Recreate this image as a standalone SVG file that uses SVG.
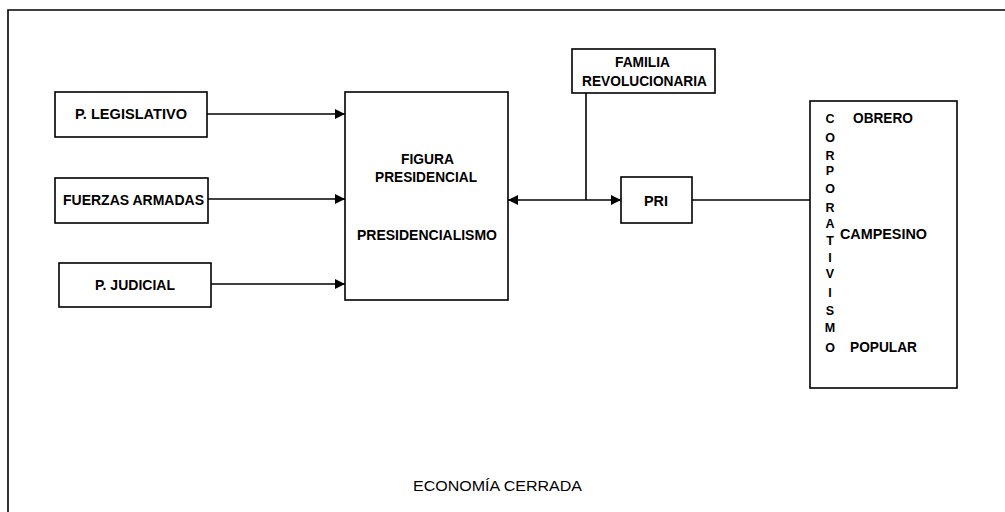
<svg xmlns="http://www.w3.org/2000/svg" width="1005" height="512" viewBox="0 0 1005 512">
<style>
.box{fill:#fff;stroke:#000;stroke-width:1.6}
.ln{fill:none;stroke:#000;stroke-width:1.6}
text{font-family:"Liberation Sans",Arial,sans-serif;font-size:14px;font-weight:bold;fill:#000}
.v{font-size:12.5px;text-anchor:middle}
</style>
<defs>
<marker id="ah" viewBox="0 0 10 10" refX="10" refY="5" markerWidth="12" markerHeight="10" markerUnits="userSpaceOnUse" orient="auto-start-reverse">
<path d="M0,0 L10,5 L0,10 z" fill="#000"/>
</marker>
</defs>
<rect width="1005" height="512" fill="#fff"/>
<path class="ln" d="M8,512 V10 H1005" stroke-width="2"/>
<g id="connectors">
<line class="ln" x1="207" y1="114" x2="345" y2="114" marker-end="url(#ah)"/>
<line class="ln" x1="208" y1="199" x2="345" y2="199" marker-end="url(#ah)"/>
<line class="ln" x1="211" y1="284" x2="345" y2="284" marker-end="url(#ah)"/>
<line class="ln" x1="508" y1="200" x2="621" y2="200" marker-start="url(#ah)" marker-end="url(#ah)"/>
<line class="ln" x1="586" y1="93" x2="586" y2="200"/>
<line class="ln" x1="692" y1="200" x2="810" y2="200"/>
</g>
<g id="legislativo">
<rect class="box" x="55" y="92" width="152" height="45"/>
<text x="75" y="119" textLength="112" lengthAdjust="spacingAndGlyphs">P. LEGISLATIVO</text>
</g>
<g id="fuerzas">
<rect class="box" x="55" y="178" width="153" height="45"/>
<text x="63" y="205" textLength="141" lengthAdjust="spacingAndGlyphs">FUERZAS ARMADAS</text>
</g>
<g id="judicial">
<rect class="box" x="59" y="263" width="152" height="44"/>
<text x="95" y="290" textLength="80" lengthAdjust="spacingAndGlyphs">P. JUDICIAL</text>
</g>
<g id="presidencial">
<rect class="box" x="345" y="92" width="163" height="208"/>
<text x="401" y="164" textLength="53" lengthAdjust="spacingAndGlyphs">FIGURA</text>
<text x="375" y="182" textLength="102" lengthAdjust="spacingAndGlyphs">PRESIDENCIAL</text>
<text x="357" y="240" textLength="140" lengthAdjust="spacingAndGlyphs">PRESIDENCIALISMO</text>
</g>
<g id="familia">
<rect class="box" x="572" y="49" width="143" height="44"/>
<text x="615" y="67" textLength="55" lengthAdjust="spacingAndGlyphs">FAMILIA</text>
<text x="582" y="86" textLength="125" lengthAdjust="spacingAndGlyphs">REVOLUCIONARIA</text>
</g>
<g id="pri">
<rect class="box" x="621" y="177" width="71" height="46"/>
<text x="644" y="206" textLength="24" lengthAdjust="spacingAndGlyphs">PRI</text>
</g>
<g id="corporativismo">
<rect class="box" x="810" y="101" width="147" height="287"/>
<text class="v" x="830" y="123">C</text>
<text class="v" x="830" y="142">O</text>
<text class="v" x="830" y="160">R</text>
<text class="v" x="830" y="175">P</text>
<text class="v" x="830" y="193">O</text>
<text class="v" x="830" y="212">R</text>
<text class="v" x="830" y="228">A</text>
<text class="v" x="830" y="245">T</text>
<text class="v" x="830" y="262">I</text>
<text class="v" x="830" y="278">V</text>
<text class="v" x="830" y="297">I</text>
<text class="v" x="830" y="315">S</text>
<text class="v" x="830" y="332">M</text>
<text class="v" x="830" y="352">O</text>
<text x="853" y="123" textLength="60" lengthAdjust="spacingAndGlyphs">OBRERO</text>
<text x="840" y="239" textLength="87" lengthAdjust="spacingAndGlyphs">CAMPESINO</text>
<text x="850" y="352" textLength="67" lengthAdjust="spacingAndGlyphs">POPULAR</text>
</g>
<text x="413" y="491" textLength="169" lengthAdjust="spacingAndGlyphs" style="font-weight:normal;font-size:15px">ECONOMÍA CERRADA</text>
</svg>
